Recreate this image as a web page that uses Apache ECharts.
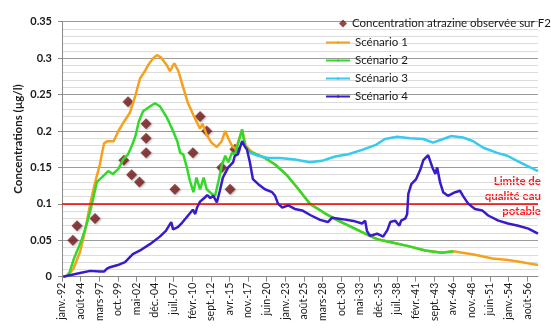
<!DOCTYPE html>
<html><head><meta charset="utf-8">
<script src="https://cdn.jsdelivr.net/npm/echarts@6/dist/echarts.min.js"></script>
<style>html,body{margin:0;padding:0;background:#fff}#c{width:551px;height:328px}</style>
</head><body><div id="c"></div>
<script>
// x positions are months since janv.-92
const xTickLabels = ['janv.-92','août-94','mars-97','oct.-99','mai-02','déc.-04','juil.-07','févr.-10','sept.-12','avr.-15','nov.-17','juin-20','janv.-23','août-25','mars-28','oct.-30','mai-33','déc.-35','juil.-38','févr.-41','sept.-43','avr.-46','nov.-48','juin-51','janv.-54','août-56'];
const monthsPerTick = 31;
const lastMonth = 793;
const limitValue = 0.1;

const obsMonth = [18, 25, 55, 103, 110, 116, 129, 140, 140, 140, 188, 218, 230, 241, 266, 280, 288];
const obsValue = [0.05, 0.07, 0.08, 0.16, 0.24, 0.14, 0.13, 0.21, 0.19, 0.17, 0.12, 0.17, 0.22, 0.20, 0.15, 0.12, 0.175];

const sc1Head = [[2,0],[10,0.002],[19,0.011],[30,0.034],[38,0.061],[47,0.1],[55,0.129],[63,0.154],[70,0.183],[76,0.186],[86,0.186],[94,0.2],[102,0.211],[113,0.225],[122,0.248],[130,0.272],[138,0.282],[144,0.291],[152,0.3],[158,0.304],[165,0.301],[174,0.291],[180,0.282],[187,0.293],[194,0.282],[200,0.265],[210,0.238],[220,0.22],[230,0.203],[234,0.21],[241,0.195],[249,0.184],[258,0.178],[266,0.186],[272,0.2],[277,0.19],[283,0.18],[290,0.175],[300,0.202],[306,0.18],[315,0.172]];
const sc2Head = [[8,0],[13,0.007],[20,0.025],[33,0.051],[42,0.075],[50,0.1],[58,0.13],[66,0.136],[77,0.145],[85,0.141],[94,0.148],[102,0.161],[110,0.168],[116,0.179],[122,0.192],[128,0.213],[135,0.227],[147,0.234],[155,0.238],[163,0.234],[175,0.218],[185,0.2],[192,0.186],[197,0.17],[202,0.168],[208,0.15],[213,0.132],[219,0.116],[224,0.136],[230,0.12],[236,0.136],[241,0.12],[249,0.114],[255,0.111],[261,0.132],[266,0.152],[272,0.166],[277,0.157],[283,0.17],[288,0.168],[293,0.182],[300,0.202],[305,0.179],[310,0.173]];
const tailSc12 = [[317,0.170],[327,0.167],[338,0.163],[355,0.154],[375,0.139],[393,0.121],[413,0.1],[438,0.087],[460,0.077],[488,0.066],[510,0.057],[527,0.051],[550,0.047],[577,0.042],[605,0.036],[633,0.033],[652,0.035]];
const sc1End = [[667,0.033],[688,0.03],[717,0.025],[743,0.023],[772,0.019],[793,0.016]];
const sc3 = [[313,0.170],[327,0.166],[343,0.163],[363,0.163],[388,0.161],[413,0.157],[433,0.159],[455,0.165],[477,0.168],[500,0.174],[523,0.181],[538,0.189],[558,0.192],[580,0.19],[602,0.189],[618,0.184],[635,0.189],[648,0.193],[668,0.191],[685,0.186],[702,0.177],[725,0.17],[742,0.166],[758,0.159],[775,0.152],[793,0.145]];
const sc4 = [[2,0],[13,0.002],[30,0.005],[47,0.008],[63,0.007],[70,0.007],[75,0.011],[80,0.013],[93,0.016],[105,0.02],[118,0.031],[130,0.036],[147,0.045],[163,0.055],[173,0.063],[182,0.075],[185,0.065],[193,0.068],[200,0.074],[208,0.082],[218,0.092],[222,0.086],[225,0.095],[230,0.103],[237,0.108],[242,0.112],[247,0.108],[252,0.111],[258,0.102],[263,0.118],[268,0.136],[277,0.15],[285,0.157],[288,0.166],[293,0.168],[300,0.186],[305,0.178],[308,0.175],[313,0.157],[318,0.134],[327,0.127],[338,0.12],[350,0.116],[355,0.111],[360,0.1],[367,0.095],[377,0.098],[388,0.093],[400,0.091],[415,0.084],[430,0.078],[443,0.075],[450,0.081],[467,0.079],[488,0.076],[500,0.073],[505,0.077],[508,0.063],[513,0.056],[525,0.059],[535,0.055],[542,0.064],[547,0.075],[555,0.077],[562,0.07],[565,0.077],[572,0.08],[575,0.086],[577,0.114],[582,0.127],[590,0.134],[597,0.147],[602,0.16],[610,0.167],[617,0.15],[622,0.141],[625,0.15],[630,0.129],[635,0.116],[643,0.111],[655,0.116],[663,0.118],[668,0.111],[677,0.1],[688,0.093],[700,0.091],[710,0.084],[727,0.077],[743,0.073],[760,0.07],[777,0.066],[793,0.059]];

const names = ['Concentration atrazine observée sur F2','Scénario 1','Scénario 2','Scénario 3','Scénario 4'];
const colors = ['#761b1b','#f5a11c','#33d92a','#34cbef','#3a1bcc'];
const FONT = 'Lato, "Open Sans", sans-serif';

const chart = echarts.init(document.getElementById('c'), null, {renderer:'canvas'});
function lineSeries(i, data, z){
  return {name:names[i], type:'line', data:data, symbol:'none', z:z,
    lineStyle:{color:colors[i], width:2.5}, itemStyle:{color:colors[i]}, animation:false};
}
chart.setOption({
  animation:false,
  textStyle:{fontFamily:FONT},
  grid:{left:62, right:13, top:21.7, bottom:51.3},
  legend:[{
    data:[{name:names[0], icon:'diamond'}], left:334, top:12.5, itemWidth:8, itemHeight:8,
    textStyle:{fontFamily:FONT, fontSize:11.5, color:'#1a1a1a'}
  },{
    data:names.slice(1), orient:'vertical', left:320, top:30.5, itemWidth:24, itemHeight:3, itemGap:4,
    textStyle:{fontFamily:FONT, fontSize:11.5, color:'#1a1a1a', lineHeight:14}
  }],
  xAxis:{
    type:'value', min:0, max:lastMonth, interval:monthsPerTick,
    splitLine:{show:false},
    axisLine:{lineStyle:{color:'#8a8a8a', width:1}},
    axisTick:{show:true, length:5, lineStyle:{color:'#8a8a8a'}},
    axisLabel:{rotate:90, fontSize:10.5, color:'#1a1a1a', margin:6, fontFamily:FONT, showMaxLabel:false,
      formatter:function(v){ var k=v/monthsPerTick; return (Number.isInteger(k) && k<xTickLabels.length)? xTickLabels[k] : ''; }}
  },
  yAxis:{
    type:'value', min:0, max:0.35, interval:0.05,
    axisLine:{show:true, lineStyle:{color:'#8a8a8a'}},
    axisTick:{show:true, length:4, lineStyle:{color:'#8a8a8a'}},
    axisLabel:{fontSize:11, fontWeight:'bold', color:'#1a1a1a', margin:10, fontFamily:FONT},
    splitLine:{show:true, lineStyle:{color:'#9a9a9a', width:1}},
    minorTick:{show:false, splitNumber:5},
    minorSplitLine:{show:true, lineStyle:{color:'#dcdcdc', width:1}}
  },
  graphic:[{
    type:'text', x:18, y:139, rotation:Math.PI/2,
    style:{text:'Concentrations (µg/l)', fontFamily:FONT, fontSize:11.5, fontWeight:'bold', fill:'#1a1a1a', align:'center', verticalAlign:'middle'}
  },{
    type:'text', x:541, y:196.5,
    style:{text:'Limite de\nqualité eau\npotable', fontFamily:FONT, fontSize:11.5, fontWeight:'bold', fill:'#ff1a1a', align:'right', verticalAlign:'middle', lineHeight:15}
  }],
  series:[
    {name:names[0], type:'scatter', z:2, symbol:'diamond', symbolSize:11,
     data:obsMonth.map(function(m,i){return [m, obsValue[i]];}),
     itemStyle:{color:colors[0], shadowBlur:2, shadowColor:'rgba(0,0,0,0.35)', shadowOffsetX:1, shadowOffsetY:1},
     markLine:{silent:true, symbol:'none', label:{show:false}, lineStyle:{color:'#ff0000', width:1.5, type:'solid'},
       data:[{yAxis:limitValue}]}},
    lineSeries(1, sc1Head.concat(tailSc12, sc1End), 3),
    lineSeries(2, sc2Head.concat(tailSc12), 4),
    lineSeries(3, sc3, 5),
    lineSeries(4, sc4, 6)
  ]
});
</script></body></html>
